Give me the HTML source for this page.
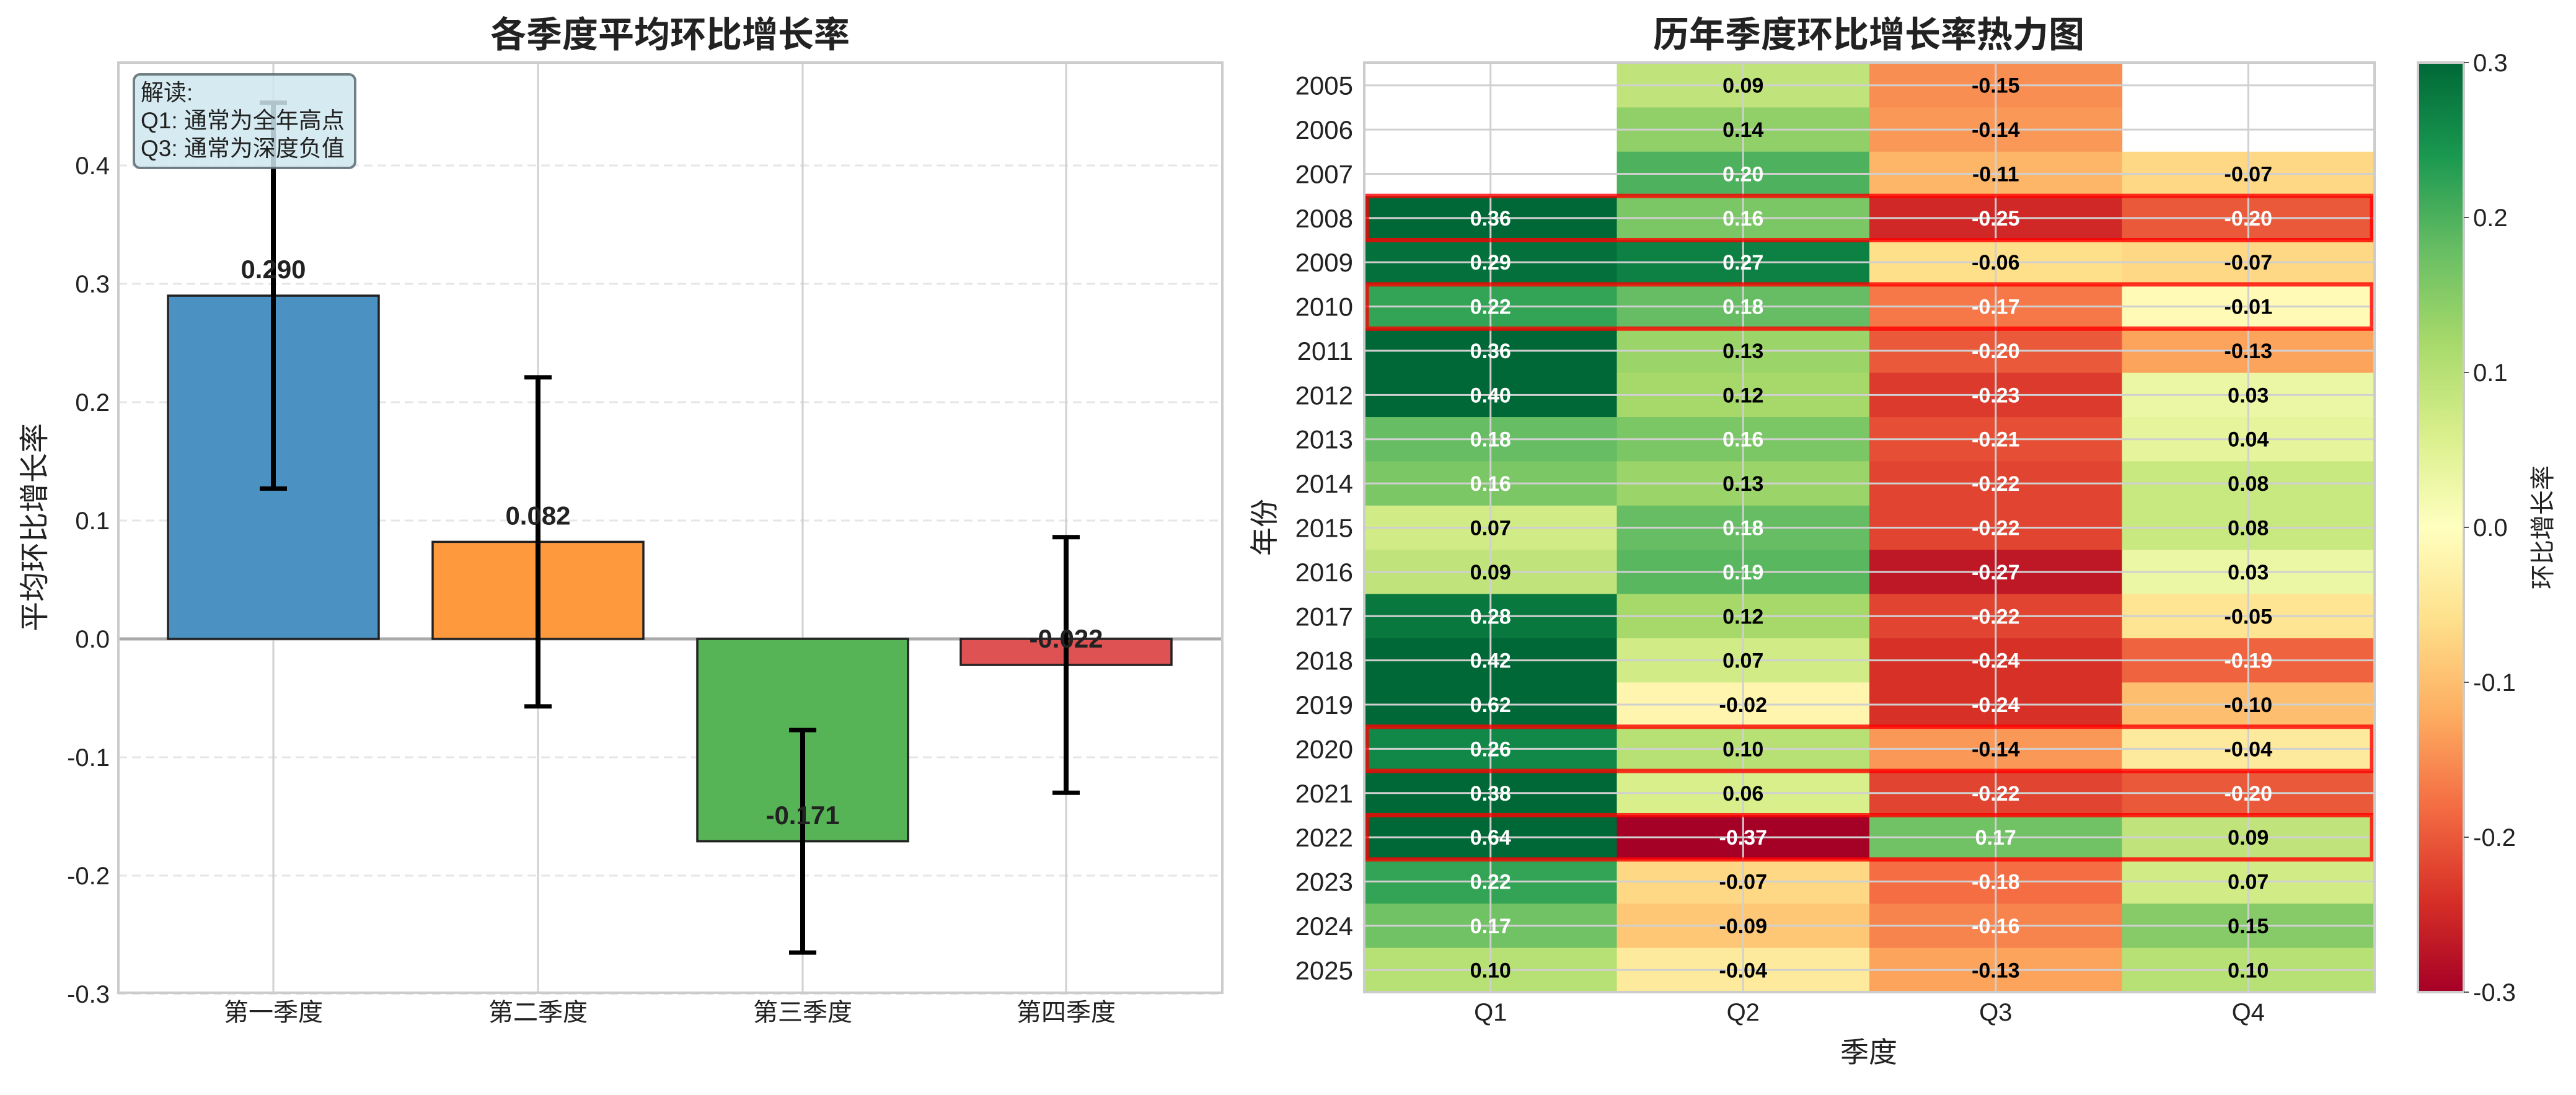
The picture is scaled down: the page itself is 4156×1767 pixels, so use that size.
<!DOCTYPE html>
<html><head><meta charset="utf-8"><style>
body{margin:0;background:#fff}
svg text{font-family:"Liberation Sans","Noto Sans CJK SC",sans-serif}
</style></head><body>
<svg id="s" xmlns="http://www.w3.org/2000/svg" width="4156" height="1762" viewBox="0 0 4156 1762">
<rect width="4156" height="1762" fill="#fff"/>
<text x="1081" y="76" font-size="58" font-weight="bold" text-anchor="middle" fill="#222">各季度平均环比增长率</text>
<g id="left"></g>
<text x="3015" y="76" font-size="58" font-weight="bold" text-anchor="middle" fill="#222">历年季度环比增长率热力图</text>
<g id="right"></g>
</svg>
<script>
const NS="http://www.w3.org/2000/svg";
function el(p,t,a,txt){const e=document.createElementNS(NS,t);for(const k in a)e.setAttribute(k,a[k]);if(txt!==undefined)e.textContent=txt;p.appendChild(e);return e;}
const L=document.getElementById('left');
const ax0=191,ax1=1972,ay0=101,ay1=1602;
const Y=v=>1031-v*1910;
for(let t=-3;t<=4;t++){const y=Y(t/10);
 el(L,'line',{x1:ax0,x2:ax1,y1:y,y2:y,stroke:'#e6e6e6','stroke-width':3,'stroke-dasharray':'14,8'});
 el(L,'text',{x:ax0-14,y:y+14,'font-size':40,'text-anchor':'end',fill:'#222'},(t/10).toFixed(1));}
const cx=[441,868,1295,1720];
cx.forEach(x=>el(L,'line',{x1:x,x2:x,y1:ay0,y2:ay1,stroke:'#d0d0d0','stroke-width':3}));
el(L,'line',{x1:ax0,x2:ax1,y1:Y(0),y2:Y(0),stroke:'#aaa','stroke-width':5});
const vals=[0.290,0.082,-0.171,-0.022],cols=['#4b92c3','#ff993e','#56b356','#de5253'];
const err=[[0.127,0.453],[-0.057,0.221],[-0.265,-0.077],[-0.130,0.086]];
const names=['第一季度','第二季度','第三季度','第四季度'];
vals.forEach((v,i)=>{const x=cx[i]-170,y1=Y(Math.max(v,0)),y2=Y(Math.min(v,0));
 el(L,'rect',{x:x,y:y1,width:340,height:y2-y1,fill:cols[i],stroke:'#222','stroke-width':3.5});});
err.forEach((e,i)=>{const x=cx[i];
 el(L,'line',{x1:x,x2:x,y1:Y(e[0]),y2:Y(e[1]),stroke:'#000','stroke-width':8});
 e.forEach(v=>el(L,'line',{x1:x-22,x2:x+22,y1:Y(v),y2:Y(v),stroke:'#000','stroke-width':7}));});
vals.forEach((v,i)=>{let y=v>=0?Y(v)-28:Y(v)+42; if(i==3)y=Y(0)+14; if(i==2)y=1330;
 el(L,'text',{x:cx[i],y:y,'font-size':42,'font-weight':'bold','text-anchor':'middle',fill:'#222'},v.toFixed(3));
 el(L,'text',{x:cx[i],y:1647,'font-size':40,'text-anchor':'middle',fill:'#222'},names[i]);});
el(L,'rect',{x:ax0,y:ay0,width:ax1-ax0,height:ay1-ay0,fill:'none',stroke:'#ccc','stroke-width':4});
el(L,'text',{x:0,y:0,'font-size':48,'text-anchor':'middle',fill:'#222',transform:'translate(72,851) rotate(-90)'},'平均环比增长率');
el(L,'rect',{x:216,y:120,width:357,height:151,rx:10,fill:'#cfe7ef','fill-opacity':0.85,stroke:'#5a6a70','stroke-opacity':0.85,'stroke-width':4});
['解读:','Q1: 通常为全年高点','Q3: 通常为深度负值'].forEach((t,i)=>el(L,'text',{x:227,y:162+i*45,'font-size':37,fill:'#222'},t));

const R=document.getElementById('right');
const hx0=2201,hx1=3831,hy0=102,hy1=1601,cw=(hx1-hx0)/4,rh=(hy1-hy0)/21;
const data=[[null,.09,-.15,null],[null,.14,-.14,null],[null,.20,-.11,-.07],[.36,.16,-.25,-.20],[.29,.27,-.06,-.07],[.22,.18,-.17,-.01],[.36,.13,-.20,-.13],[.40,.12,-.23,.03],[.18,.16,-.21,.04],[.16,.13,-.22,.08],[.07,.18,-.22,.08],[.09,.19,-.27,.03],[.28,.12,-.22,-.05],[.42,.07,-.24,-.19],[.62,-.02,-.24,-.10],[.26,.10,-.14,-.04],[.38,.06,-.22,-.20],[.64,-.37,.17,.09],[.22,-.07,-.18,.07],[.17,-.09,-.16,.15],[.10,-.04,-.13,.10]];
const stops=['#a50026','#d73027','#f46d43','#fdae61','#fee08b','#ffffbf','#d9ef8b','#a6d96a','#66bd63','#1a9850','#006837'].map(h=>[1,3,5].map(i=>parseInt(h.substr(i,2),16)));
function cmap(v){let t=(v+0.3)/0.6;t=Math.max(0,Math.min(1,t))*10;let i=Math.min(9,Math.floor(t)),f=t-i;
 const c=stops[i].map((a,k)=>Math.round(a+(stops[i+1][k]-a)*f));return `rgb(${c})`;}
data.forEach((row,r)=>row.forEach((v,c)=>{if(v===null)return;
 el(R,'rect',{x:hx0+c*cw,y:hy0+r*rh,width:cw+0.6,height:rh+0.6,fill:cmap(v)});}));
for(let c=0;c<4;c++){const x=hx0+(c+.5)*cw;el(R,'line',{x1:x,x2:x,y1:hy0,y2:hy1,stroke:'#d0d0d0','stroke-width':3});
 el(R,'text',{x:x,y:1647,'font-size':40,'text-anchor':'middle',fill:'#222'},'Q'+(c+1));}
for(let r=0;r<21;r++){const y=hy0+(r+.5)*rh;el(R,'line',{x1:hx0,x2:hx1,y1:y,y2:y,stroke:'#d0d0d0','stroke-width':3});
 el(R,'text',{x:2183,y:y+15,'font-size':42,'text-anchor':'end',fill:'#222'},String(2005+r));}
data.forEach((row,r)=>row.forEach((v,c)=>{if(v===null)return;
 el(R,'text',{x:hx0+(c+.5)*cw,y:hy0+(r+.5)*rh+12,'font-size':34,'font-weight':'bold','text-anchor':'middle',fill:Math.abs(v)>0.155?'#fff':'#000'},v.toFixed(2));}));
[3,5,15,17].forEach(r=>el(R,'rect',{x:hx0+4,y:hy0+r*rh,width:hx1-hx0-8,height:rh,fill:'none',stroke:'#ff0000','stroke-opacity':0.8,'stroke-width':7}));
el(R,'rect',{x:hx0,y:hy0-1,width:hx1-hx0,height:hy1-hy0+1,fill:'none',stroke:'#ccc','stroke-width':4});
el(R,'text',{x:3015,y:1714,'font-size':46,'text-anchor':'middle',fill:'#222'},'季度');
el(R,'text',{x:0,y:0,'font-size':46,'text-anchor':'middle',fill:'#222',transform:'translate(2056,851) rotate(-90)'},'年份');
const defs=el(R,'defs',{});const g=el(defs,'linearGradient',{id:'cb',x1:0,y1:1,x2:0,y2:0});
stops.forEach((c,i)=>el(g,'stop',{offset:(i/10),'stop-color':`rgb(${c})`}));
el(R,'rect',{x:3901,y:101,width:74,height:1500,fill:'url(#cb)',stroke:'#ccc','stroke-width':4});
for(let i=0;i<=6;i++){const v=0.3-i*0.1,y=101+i*250;
 el(R,'line',{x1:3975,x2:3983,y1:y,y2:y,stroke:'#555','stroke-width':2});
 el(R,'text',{x:3990,y:y+14,'font-size':40,fill:'#222'},(Math.abs(v)<1e-9?0:v).toFixed(1));}
el(R,'text',{x:0,y:0,'font-size':40,'text-anchor':'middle',fill:'#222',transform:'translate(4116,851) rotate(-90)'},'环比增长率');
</script>
</body></html>
